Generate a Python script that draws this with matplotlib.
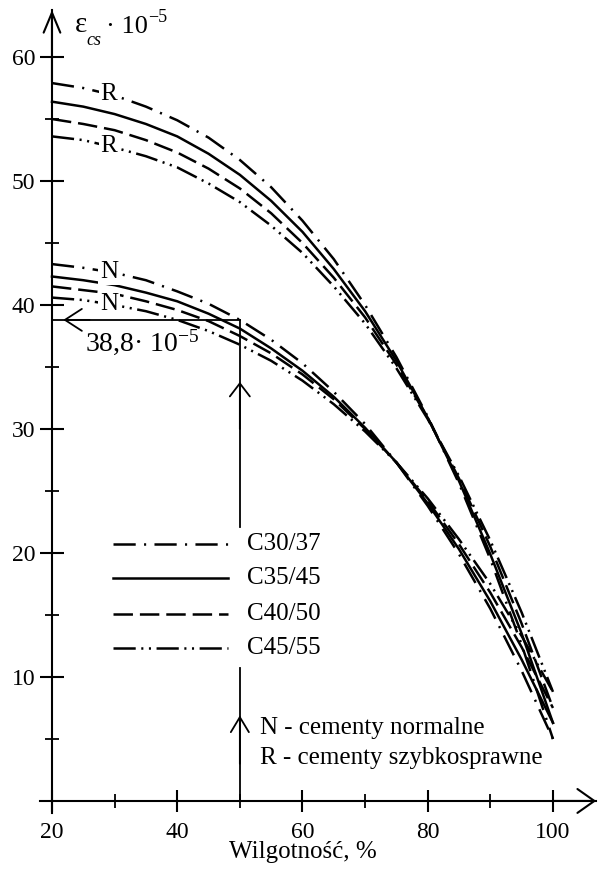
import numpy as np
import matplotlib
matplotlib.use('Agg')
import matplotlib.pyplot as plt

plt.rcParams['font.family'] = ['Liberation Serif', 'DejaVu Serif']
plt.rcParams['mathtext.fontset'] = 'custom'
plt.rcParams['mathtext.rm'] = 'Liberation Serif'
plt.rcParams['mathtext.it'] = 'Liberation Serif:italic'
plt.rcParams['lines.scale_dashes'] = False

# wilgotnosc [%]
rh = [20, 25, 30, 35, 40, 45, 50, 55, 60, 65, 70, 75, 80, 85, 90, 95, 100]

# cementy szybkosprawne (R), eps_cs * 10^-5
r_c30 = [57.9, 57.5, 56.9, 56.0, 54.9, 53.5, 51.7, 49.5, 46.8, 43.7, 40.0, 35.8, 31.0, 25.6, 19.5, 12.6, 5.0]
r_c35 = [56.4, 56.0, 55.4, 54.6, 53.6, 52.2, 50.5, 48.4, 45.9, 42.9, 39.5, 35.5, 30.9, 25.8, 19.9, 13.5, 6.3]
r_c40 = [55.0, 54.6, 54.1, 53.3, 52.3, 51.0, 49.4, 47.4, 45.0, 42.2, 39.0, 35.2, 30.9, 26.0, 20.5, 14.3, 7.5]
r_c45 = [53.6, 53.3, 52.7, 52.0, 51.1, 49.8, 48.3, 46.4, 44.2, 41.5, 38.5, 34.9, 30.8, 26.2, 21.0, 15.2, 8.8]

# cementy normalne (N)
n_c30 = [43.3, 43.0, 42.6, 42.0, 41.1, 40.1, 38.8, 37.2, 35.3, 33.0, 30.4, 27.3, 23.8, 19.9, 15.5, 10.5, 5.0]
n_c35 = [42.3, 42.0, 41.6, 41.0, 40.3, 39.3, 38.1, 36.5, 34.7, 32.6, 30.1, 27.3, 24.0, 20.3, 16.1, 11.4, 6.3]
n_c40 = [41.5, 41.2, 40.9, 40.3, 39.6, 38.7, 37.5, 36.1, 34.4, 32.4, 30.0, 27.3, 24.2, 20.7, 16.8, 12.4, 7.5]
n_c45 = [40.6, 40.4, 40.0, 39.5, 38.8, 37.9, 36.8, 35.5, 33.9, 32.0, 29.8, 27.3, 24.4, 21.1, 17.5, 13.3, 8.8]

classes = ['C30/37', 'C35/45', 'C40/50', 'C45/55']
x_ticks = [20, 40, 60, 80, 100]
y_ticks = [10, 20, 30, 40, 50, 60]

# odczyt z wykresu
rh_read = 50
eps_read = 38.8

dashdot = (0, (16, 6, 1.5, 6))
dashed = (0, (14, 5))
dashdotdot = (0, (16, 4, 1.5, 4, 1.5, 4))
styles = [dashdot, '-', dashed, dashdotdot]

fig = plt.figure(figsize=(5.98, 8.72), dpi=100)
ax = fig.add_axes([0, 0, 1, 1])
ax.set_xlim(11.70, 107.19)
ax.set_ylim(-5.73, 64.6)

# osie
for s in ['top', 'right']:
    ax.spines[s].set_visible(False)
ax.spines['left'].set_position(('data', 20))
ax.spines['bottom'].set_position(('data', 0))
ax.spines['left'].set_bounds(-1.0, 63.8)
ax.spines['bottom'].set_bounds(18.1, 106.9)
ax.spines['left'].set_linewidth(1.5)
ax.spines['bottom'].set_linewidth(1.5)

ax.set_xticks(x_ticks)
ax.set_xticks([30, 50, 70, 90], minor=True)
ax.set_yticks(y_ticks)
ax.set_yticks([5, 15, 25, 35, 45, 55], minor=True)
ax.tick_params(axis='y', which='major', direction='inout', length=17, width=1.5, pad=3.6, labelsize=17)
ax.tick_params(axis='y', which='minor', direction='inout', length=9.5, width=1.3)
ax.tick_params(axis='x', which='major', direction='inout', length=16, width=1.5, pad=7, labelsize=17)
ax.tick_params(axis='x', which='minor', direction='inout', length=10, width=1.3)

arrow = dict(color='black', lw=1.5, shrinkA=0, shrinkB=0, mutation_scale=10)
ax.annotate('', xy=(20, 63.8), xytext=(20, 58),
            arrowprops=dict(arrowstyle='->,head_length=1.44,head_width=0.6', **arrow))
ax.annotate('', xy=(106.9, 0), xytext=(100, 0),
            arrowprops=dict(arrowstyle='->,head_length=1.22,head_width=0.86', **arrow))

# opis osi y: eps_cs * 10^-5
ax.text(23.67, 62.02, 'ε', fontsize=21, ha='left', va='baseline')
ax.text(25.43, 60.97, 'cs', fontsize=13, style='italic', ha='left', va='baseline')
ax.text(28.6, 61.94, '· 10', fontsize=19, ha='left', va='baseline')
ax.text(35.4, 62.82, '−5', fontsize=13, ha='left', va='baseline')
ax.text(60, -4.1, 'Wilgotność, %', fontsize=18, ha='center', va='center')

# krzywe
for group in [[r_c30, r_c35, r_c40, r_c45], [n_c30, n_c35, n_c40, n_c45]]:
    for vals, ls in zip(group, styles):
        ax.plot(rh, vals, color='black', lw=1.8, linestyle=ls)

lbl_box = dict(facecolor='white', edgecolor='none', pad=1.5)
for vals, txt in [(r_c30, 'R'), (r_c45, 'R'), (n_c30, 'N'), (n_c45, 'N')]:
    ax.text(29.1, np.interp(29.1, rh, vals), txt, fontsize=18, ha='center', va='center',
            bbox=lbl_box, zorder=5)

# odczyt 38,8
ax.plot([20, rh_read], [eps_read, eps_read], color='black', lw=1.3)
ax.plot([rh_read, rh_read], [22.1, eps_read], color='black', lw=1.3)
ax.plot([rh_read, rh_read], [0, 10.7], color='black', lw=1.3)
arrow2 = dict(color='black', lw=1.3, shrinkA=0, shrinkB=0, mutation_scale=10)
ax.annotate('', xy=(21.8, eps_read), xytext=(26, eps_read),
            arrowprops=dict(arrowstyle='->,head_length=1.22,head_width=0.79', **arrow2))
ax.annotate('', xy=(rh_read, 33.8), xytext=(rh_read, 30),
            arrowprops=dict(arrowstyle='->,head_length=0.94,head_width=0.72', **arrow2))
ax.annotate('', xy=(rh_read, 6.9), xytext=(rh_read, 3),
            arrowprops=dict(arrowstyle='->,head_length=1.08,head_width=0.65', **arrow2))
ax.text(25.27, 36.37, '38,8· 10$^{-5}$', fontsize=20, ha='left', va='baseline')

# legenda
leg_y = [20.7, 18.0, 15.1, 12.3]
for yy, ls, name in zip(leg_y, styles, classes):
    ax.plot([29.74, 48.1], [yy, yy], color='black', lw=1.8, linestyle=ls)
    ax.text(51.1, yy, name, fontsize=18, ha='left', va='center')

ax.text(53.2, 5.89, 'N - cementy normalne', fontsize=18, ha='left', va='center')
ax.text(53.2, 3.47, 'R - cementy szybkosprawne', fontsize=18, ha='left', va='center')

fig.savefig('out.png', dpi=100)
